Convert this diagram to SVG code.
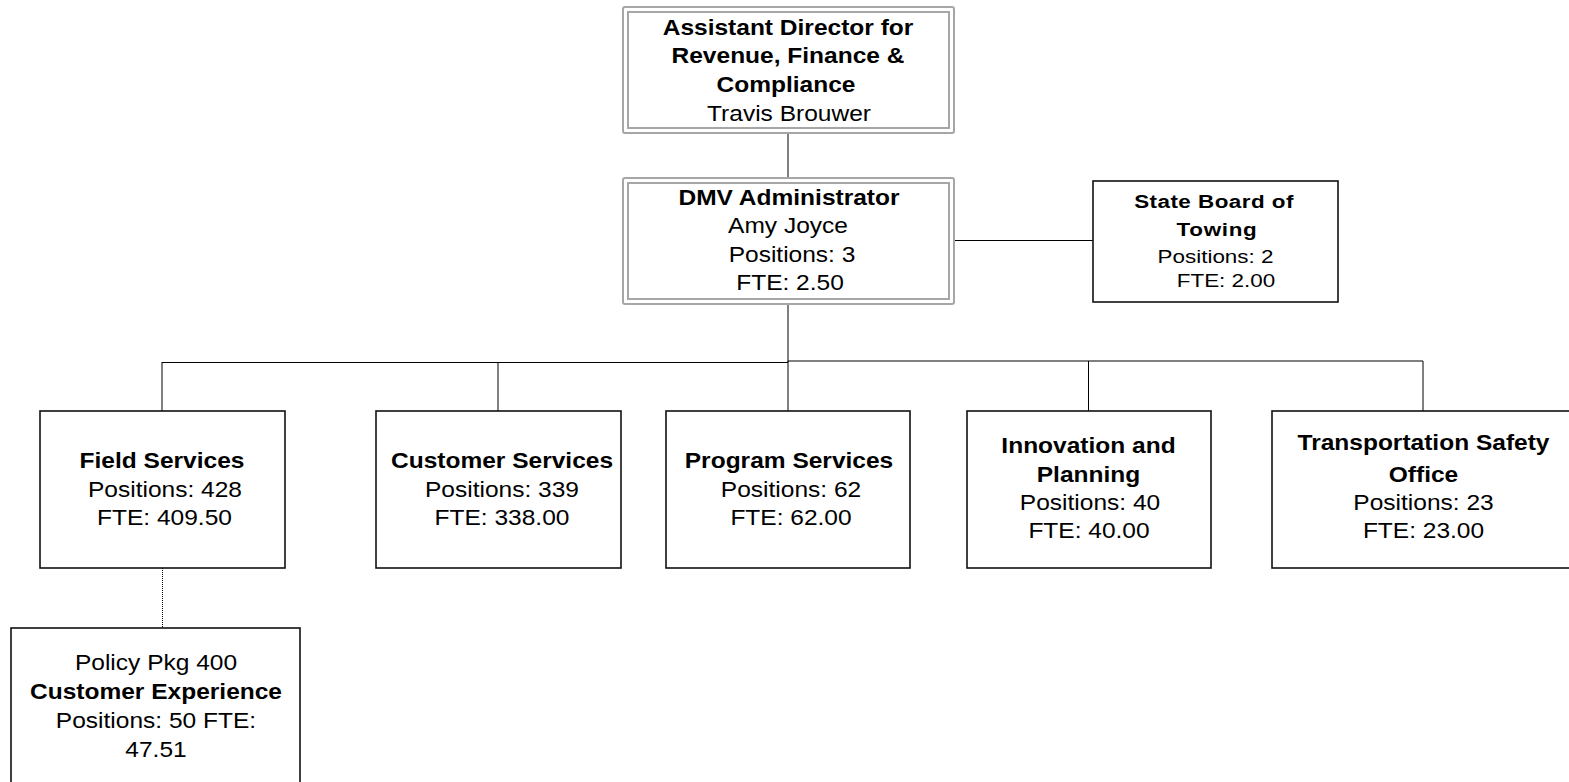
<svg xmlns="http://www.w3.org/2000/svg" width="1569" height="782" viewBox="0 0 1569 782">
<style>
.box{fill:#fff;stroke:#111;stroke-width:1.6}
.dbl{fill:none;stroke:#a6a6a6;stroke-width:2}
.t{font-family:"Liberation Sans",Arial,sans-serif;font-size:22px;fill:#000;text-anchor:middle}
.s{font-family:"Liberation Sans",Arial,sans-serif;font-size:19px;fill:#000;text-anchor:middle}
.b{font-weight:bold}
.ln{stroke:#000;stroke-width:1;fill:none}
.dot{stroke:#000;stroke-width:1;stroke-dasharray:1 1;fill:none}
</style>
<rect width="1569" height="782" fill="#fff"/>
<g id="connectors">
<line class="ln" x1="788" y1="133" x2="788" y2="178"/>
<line class="ln" x1="788" y1="304" x2="788" y2="362"/>
<line class="ln" x1="954" y1="240.5" x2="1093" y2="240.5"/>
<line class="ln" x1="162" y1="362.5" x2="788" y2="362.5"/>
<line class="ln" x1="788" y1="361" x2="1423" y2="361"/>
<line class="ln" x1="162" y1="362" x2="162" y2="411"/>
<line class="ln" x1="498" y1="362" x2="498" y2="411"/>
<line class="ln" x1="788" y1="361" x2="788" y2="411"/>
<line class="ln" x1="1088.5" y1="361" x2="1088.5" y2="411"/>
<line class="ln" x1="1423" y1="361" x2="1423" y2="411"/>
<line class="dot" x1="162.5" y1="568" x2="162.5" y2="628"/>
</g>
<g id="assistant-director">
<rect x="623" y="7" width="331" height="126" rx="2" class="dbl"/>
<rect x="628" y="12" width="321" height="116" class="dbl"/>
<text class="t b" transform="matrix(1.115 0 0 1 788 35)">Assistant Director for</text>
<text class="t b" transform="matrix(1.115 0 0 1 788 63)">Revenue, Finance &amp;</text>
<text class="t b" transform="matrix(1.115 0 0 1 786 92)">Compliance</text>
<text class="t" transform="matrix(1.115 0 0 1 789 121)">Travis Brouwer</text>
</g>
<g id="dmv-administrator">
<rect x="623" y="178" width="331" height="126" rx="2" class="dbl"/>
<rect x="628" y="183" width="321" height="116" class="dbl"/>
<text class="t b" transform="matrix(1.115 0 0 1 789 205)">DMV Administrator</text>
<text class="t" transform="matrix(1.115 0 0 1 788 233)">Amy Joyce</text>
<text class="t" transform="matrix(1.115 0 0 1 792 262)">Positions: 3</text>
<text class="t" transform="matrix(1.115 0 0 1 790 290)">FTE: 2.50</text>
</g>
<g id="state-board-of-towing">
<rect x="1093" y="181" width="245" height="121" class="box"/>
<text class="s b" letter-spacing="0.4" transform="matrix(1.18 0 0 1 1214 208)">State Board of</text>
<text class="s b" letter-spacing="0.6" transform="matrix(1.18 0 0 1 1217 236)">Towing</text>
<text class="s" transform="matrix(1.18 0 0 1 1215.5 263)">Positions: 2</text>
<text class="s" transform="matrix(1.18 0 0 1 1226 287)">FTE: 2.00</text>
</g>
<g id="field-services">
<rect x="40" y="411" width="245" height="157" class="box"/>
<text class="t b" transform="matrix(1.115 0 0 1 162 468)">Field Services</text>
<text class="t" transform="matrix(1.115 0 0 1 165 497)">Positions: 428</text>
<text class="t" transform="matrix(1.115 0 0 1 164.5 525)">FTE: 409.50</text>
</g>
<g id="customer-services">
<rect x="376" y="411" width="245" height="157" class="box"/>
<text class="t b" transform="matrix(1.115 0 0 1 502 468)">Customer Services</text>
<text class="t" transform="matrix(1.115 0 0 1 502 497)">Positions: 339</text>
<text class="t" transform="matrix(1.115 0 0 1 502 525)">FTE: 338.00</text>
</g>
<g id="program-services">
<rect x="666" y="411" width="244" height="157" class="box"/>
<text class="t b" transform="matrix(1.115 0 0 1 789 468)">Program Services</text>
<text class="t" transform="matrix(1.115 0 0 1 791 497)">Positions: 62</text>
<text class="t" transform="matrix(1.115 0 0 1 791 525)">FTE: 62.00</text>
</g>
<g id="innovation-and-planning">
<rect x="967" y="411" width="244" height="157" class="box"/>
<text class="t b" transform="matrix(1.115 0 0 1 1088.5 453)">Innovation and</text>
<text class="t b" transform="matrix(1.115 0 0 1 1088.5 482)">Planning</text>
<text class="t" transform="matrix(1.115 0 0 1 1090 510)">Positions: 40</text>
<text class="t" transform="matrix(1.115 0 0 1 1089 538)">FTE: 40.00</text>
</g>
<g id="transportation-safety-office">
<rect x="1272" y="411" width="310" height="157" class="box"/>
<text class="t b" transform="matrix(1.115 0 0 1 1423.5 450)">Transportation Safety</text>
<text class="t b" transform="matrix(1.115 0 0 1 1423.5 482)">Office</text>
<text class="t" transform="matrix(1.115 0 0 1 1423.5 510)">Positions: 23</text>
<text class="t" transform="matrix(1.115 0 0 1 1423.5 538)">FTE: 23.00</text>
</g>
<g id="customer-experience">
<rect x="11" y="628" width="289" height="170" class="box"/>
<text class="t" transform="matrix(1.115 0 0 1 156 670)">Policy Pkg 400</text>
<text class="t b" transform="matrix(1.115 0 0 1 156 699)">Customer Experience</text>
<text class="t" transform="matrix(1.115 0 0 1 156 728)">Positions: 50 FTE:</text>
<text class="t" transform="matrix(1.115 0 0 1 156 757)">47.51</text>
</g>
</svg>
